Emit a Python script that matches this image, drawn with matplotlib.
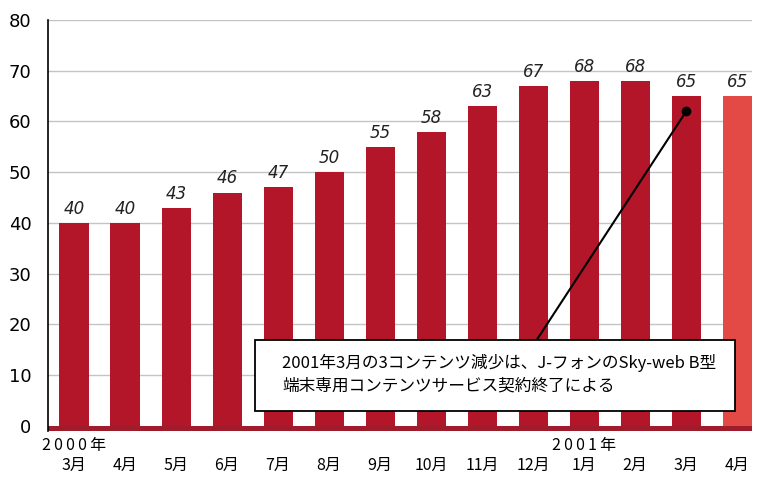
import matplotlib
matplotlib.use("Agg")
import matplotlib.pyplot as plt
from matplotlib.patches import Rectangle

plt.rcParams['font.family'] = ['Noto Sans CJK JP', 'DejaVu Sans']

months = ["3月", "4月", "5月", "6月", "7月", "8月", "9月", "10月", "11月", "12月", "1月", "2月", "3月", "4月"]
values = [40, 40, 43, 46, 47, 50, 55, 58, 63, 67, 68, 68, 65, 65]
years = [(0, "2000年"), (10, "2001年")]
yticks = [0, 10, 20, 30, 40, 50, 60, 70, 80]
note = "2001年3月の3コンテンツ減少は、J-フォンのSky-web B型\n端末専用コンテンツサービス契約終了による"

W, H = 757, 478
fig = plt.figure(figsize=(W / 100, H / 100), dpi=100)
ax = fig.add_axes([48 / W, 47 / H, (752 - 48) / W, (431 - 20) / H])

bar_c = "#b31629"
last_c = "#e34a45"
colors = [bar_c] * (len(values) - 1) + [last_c]
x = list(range(len(values)))

ax.set_xlim(-0.51, 13.29)
ax.set_ylim(-1, 80)

for y in yticks[1:]:
    ax.axhline(y, color="#c4c4c4", lw=1, zorder=0)
ax.axhspan(-1, 0, color="#9e1c2c", lw=0, zorder=1)

ax.bar(x, values, width=0.57, color=colors, zorder=2)
for xi, v in zip(x, values):
    ax.text(xi, v + 1.0, str(v), ha="center", va="bottom", fontsize=12, style="italic",
            family="DejaVu Sans", color="#222222")

for s in ["top", "right", "bottom"]:
    ax.spines[s].set_visible(False)
ax.spines["left"].set_linewidth(1.2)
ax.set_yticks(yticks)
ax.set_yticklabels([str(t) for t in yticks], fontsize=13, family="DejaVu Sans")
ax.tick_params(axis="y", length=0, pad=12)
ax.set_xticks(x)
ax.set_xticklabels(months, fontsize=11.5)
ax.tick_params(axis="x", length=0, pad=19)
for xi, lab in years:
    spaced = "\u2009".join(lab)
    ax.text(xi, -2.1, spaced, ha="center", va="top", fontsize=11.5)

# annotation
ax.plot([9.08, 12.0], [17.1, 62.0], color="black", lw=1.5, zorder=4)
ax.plot([12.0], [62.0], "o", color="black", ms=6, zorder=5)
ax.add_patch(Rectangle((3.55, 2.96), 12.96 - 3.55, 16.9 - 2.96, facecolor="white",
                       edgecolor="black", lw=1.3, zorder=6))
ax.text(4.08, 10.2, note, ha="left", va="center", fontsize=12, linespacing=1.45, zorder=7)

fig.savefig("out.png", dpi=100)
